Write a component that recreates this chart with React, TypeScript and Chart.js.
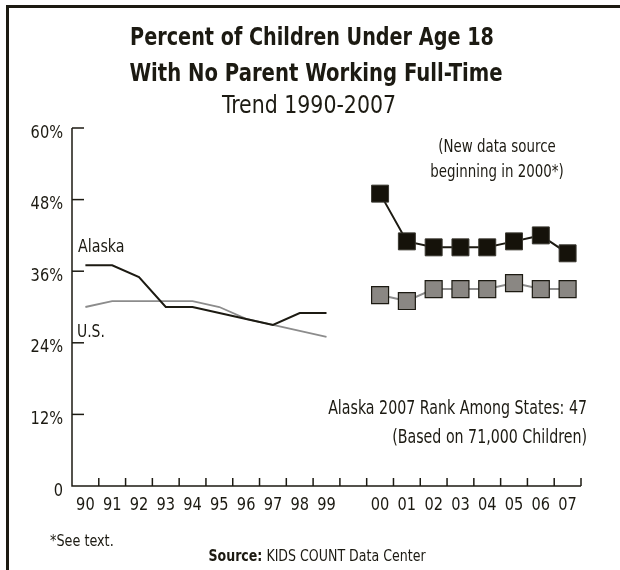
import React, { useEffect, useRef } from 'react';
import { Chart, registerables } from 'chart.js';

Chart.register(...registerables);

// ---- data ----
const yearLabels = ['90', '91', '92', '93', '94', '95', '96', '97', '98', '99', '', '00', '01', '02', '03', '04', '05', '06', '07'];
const alaska1990s = [37, 37, 35, 30, 30, 29, 28, 27, 29, 29];
const us1990s = [30, 31, 31, 31, 31, 30, 28, 27, 26, 25];
const alaska2000s = [49, 41, 40, 40, 40, 41, 42, 39];
const us2000s = [32, 31, 33, 33, 33, 34, 33, 33];
const yTickValues = [0, 12, 24, 36, 48, 60];
const yTickLabels = ['0', '12%', '24%', '36%', '48%', '60%'];
const titleLines = ['Percent of Children Under Age 18', 'With No Parent Working Full-Time'];
const subtitleText = 'Trend 1990-2007';
const noteLines = ['(New data source', 'beginning in 2000*)'];
const rankLines = ['Alaska 2007 Rank Among States: 47', '(Based on 71,000 Children)'];
const footnote = '*See text.';
const sourceBold = 'Source:';
const sourceText = ' KIDS COUNT Data Center';

const INK = '#1c1a12';
const GRAY_FILL = '#8a8783';
const GRAY_LINE = '#8c8c8c';
const FONT = "'DejaVu Sans Condensed', 'DejaVu Sans', sans-serif";

const gap = yearLabels.indexOf('');
const pad = (before: number, arr: number[], total: number) => {
  const out: (number | null)[] = Array(before).fill(null).concat(arr);
  while (out.length < total) out.push(null);
  return out;
};

// draw text horizontally condensed by factor sx
const drawText = (
  ctx: CanvasRenderingContext2D,
  text: string,
  x: number,
  y: number,
  font: string,
  align: CanvasTextAlign,
  sx: number
) => {
  ctx.save();
  ctx.font = font;
  ctx.textAlign = align;
  ctx.textBaseline = 'alphabetic';
  ctx.translate(x, y);
  ctx.scale(sx, 1);
  ctx.fillText(text, 0, 0);
  ctx.restore();
};

const decorPlugin = {
  id: 'decor',
  afterDraw(chart: any) {
    const { ctx, chartArea } = chart;
    const x = chart.scales.x;
    const y = chart.scales.y;
    const { left, right, top, bottom } = chartArea;
    ctx.save();
    ctx.fillStyle = INK;
    // frame
    ctx.fillRect(6, 5, 3, 570);
    ctx.fillRect(6, 5, 620, 3);

    // axes
    ctx.strokeStyle = INK;
    ctx.lineWidth = 1.5;
    ctx.beginPath();
    ctx.moveTo(left, top);
    ctx.lineTo(left, bottom);
    ctx.lineTo(right, bottom);
    ctx.stroke();

    // y ticks + labels
    yTickValues.forEach((v, i) => {
      const py = y.getPixelForValue(v);
      if (v !== 0) {
        ctx.beginPath();
        ctx.moveTo(left, py);
        ctx.lineTo(left + 12, py);
        ctx.stroke();
      }
      drawText(ctx, yTickLabels[i], left - 9, py + 9.5, `18px ${FONT}`, 'right', 0.9);
    });

    // x ticks at category boundaries + labels
    const n = yearLabels.length;
    for (let i = 1; i <= n; i++) {
      const px = i < n ? (x.getPixelForValue(i - 1) + x.getPixelForValue(i)) / 2 : right;
      ctx.beginPath();
      ctx.moveTo(px, bottom);
      ctx.lineTo(px, bottom - 8);
      ctx.stroke();
    }
    yearLabels.forEach((lab, i) => {
      if (!lab) return;
      drawText(ctx, lab, x.getPixelForValue(i), bottom + 23.5, `18px ${FONT}`, 'center', 0.9);
    });

    // title
    drawText(ctx, titleLines[0], 312, 45, `bold 24px ${FONT}`, 'center', 0.89);
    drawText(ctx, titleLines[1], 316, 81, `bold 24px ${FONT}`, 'center', 0.91);
    drawText(ctx, subtitleText, 309, 113, `24px ${FONT}`, 'center', 0.95);

    // series labels
    drawText(ctx, 'Alaska', 78, 252, `18px ${FONT}`, 'left', 0.88);
    drawText(ctx, 'U.S.', 77, 337, `18px ${FONT}`, 'left', 0.86);

    // note
    drawText(ctx, noteLines[0], 497, 152, `17px ${FONT}`, 'center', 0.875);
    drawText(ctx, noteLines[1], 497, 177, `17px ${FONT}`, 'center', 0.875);

    // rank
    drawText(ctx, rankLines[0], 587, 414, `20px ${FONT}`, 'right', 0.79);
    drawText(ctx, rankLines[1], 587, 443, `20px ${FONT}`, 'right', 0.79);

    // footnote & source
    drawText(ctx, footnote, 50, 546, `16px ${FONT}`, 'left', 0.89);
    const sxf = 0.875;
    ctx.font = `bold 16px ${FONT}`;
    const wb = ctx.measureText(sourceBold).width * sxf;
    ctx.font = `16px ${FONT}`;
    const wr = ctx.measureText(sourceText).width * sxf;
    const sx = 317 - (wb + wr) / 2;
    drawText(ctx, sourceBold, sx, 561, `bold 16px ${FONT}`, 'left', sxf);
    drawText(ctx, sourceText, sx + wb, 561, `16px ${FONT}`, 'left', sxf);
    ctx.restore();
  },
};

export default function App() {
  const ref = useRef<HTMLCanvasElement | null>(null);
  useEffect(() => {
    if (!ref.current) return;
    const n = yearLabels.length;
    const chart = new Chart(ref.current, {
      type: 'line',
      data: {
        labels: yearLabels,
        datasets: [
          {
            label: 'Alaska 1990s',
            data: pad(0, alaska1990s, n),
            borderColor: INK,
            borderWidth: 2,
            pointRadius: 0,
            tension: 0,
          },
          {
            label: 'U.S. 1990s',
            data: pad(0, us1990s, n),
            borderColor: GRAY_LINE,
            borderWidth: 1.8,
            pointRadius: 0,
            tension: 0,
          },
          {
            label: 'Alaska 2000s',
            data: pad(gap + 1, alaska2000s, n),
            borderColor: INK,
            borderWidth: 2,
            pointStyle: 'rect',
            pointRadius: 12,
            pointBackgroundColor: '#15120a',
            pointBorderColor: '#3a3830',
            pointBorderWidth: 1,
            tension: 0,
          },
          {
            label: 'U.S. 2000s',
            data: pad(gap + 1, us2000s, n),
            borderColor: GRAY_LINE,
            borderWidth: 2,
            pointStyle: 'rect',
            pointRadius: 12,
            pointBackgroundColor: GRAY_FILL,
            pointBorderColor: INK,
            pointBorderWidth: 1.2,
            tension: 0,
          },
        ],
      },
      options: {
        responsive: false,
        animation: false,
        events: [],
        layout: { padding: { left: 72, right: 39, top: 128, bottom: 84 } },
        scales: {
          x: { type: 'category', offset: true, display: false },
          y: { min: 0, max: 60, display: false },
        },
        plugins: {
          legend: { display: false },
          tooltip: { enabled: false },
          title: { display: false },
        },
      },
      plugins: [decorPlugin],
    });
    return () => chart.destroy();
  }, []);
  return (
    <div style={{ position: 'fixed', left: 0, top: 0, width: 620, height: 570, background: '#fff' }}>
      <canvas ref={ref} width={620} height={570} style={{ width: 620, height: 570, display: 'block' }} />
    </div>
  );
}
